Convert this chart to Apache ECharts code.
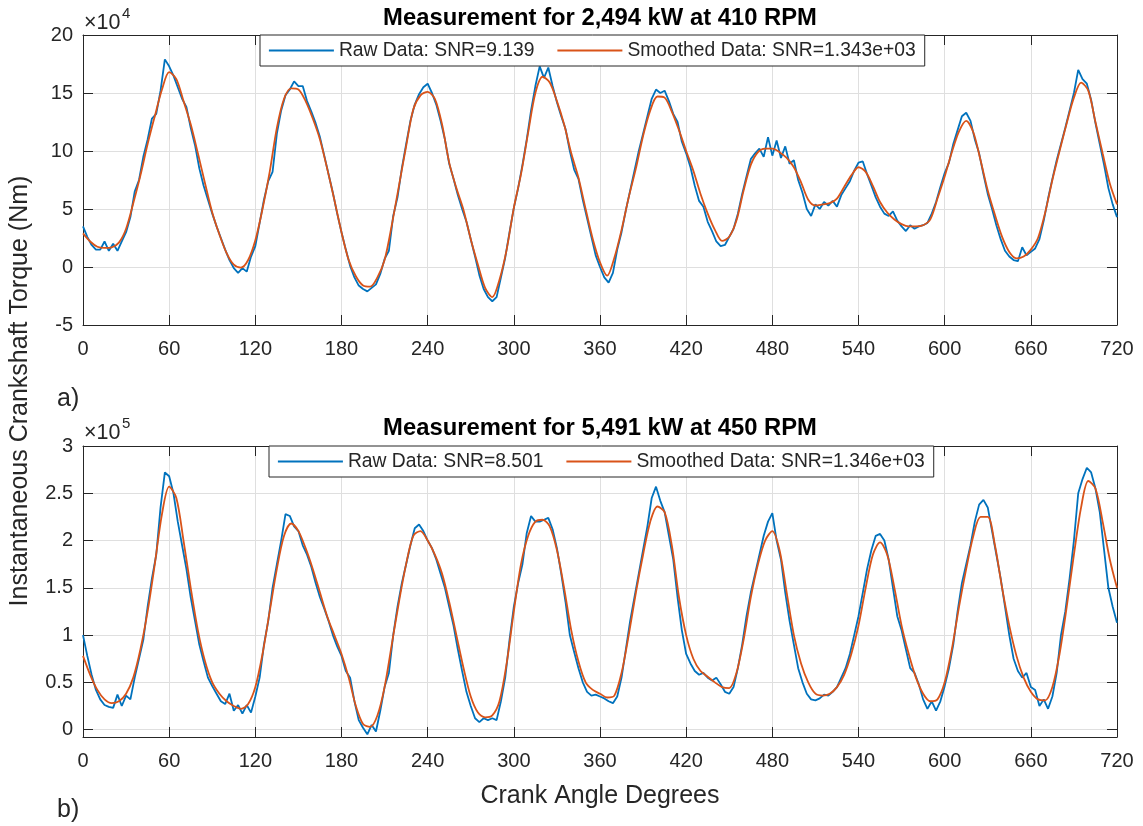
<!DOCTYPE html>
<html>
<head>
<meta charset="utf-8">
<script src="https://cdn.jsdelivr.net/npm/echarts@6/dist/echarts.min.js"></script>
<style>
  html, body { margin: 0; padding: 0; background: #fff; }
  #chart { width: 1143px; height: 826px; }
</style>
</head>
<body>
<div id="chart"></div>
<script>
// Crankshaft torque over two engine revolutions, raw vs. smoothed signal.
const FONT = '"Liberation Sans", Arial, Helvetica, sans-serif';
const INK = '#262626';
const BLUE = '#0072BD';
const ORANGE = '#D95319';

// Shared x axis: crank angle in degrees
const angleTicks = [0, 60, 120, 180, 240, 300, 360, 420, 480, 540, 600, 660, 720];
const rawStep = 3;     // degrees between raw samples
const smoothStep = 5;  // degrees between smoothed samples

// ---- Panel a: 2,494 kW at 410 RPM (torque in units of 10^4 Nm) ----
const titleA = 'Measurement for 2,494 kW at 410 RPM';
const rawNameA = 'Raw Data: SNR=9.139';
const smoothNameA = 'Smoothed Data: SNR=1.343e+03';
const yTicksA = [-5, 0, 5, 10, 15, 20];
const rawA = [
  3.5, 2.6, 1.9, 1.5, 1.5, 2.2, 1.4, 2.0, 1.4, 2.2,
  3.0, 4.3, 6.5, 7.5, 9.5, 11.0, 12.8, 13.2, 15.2, 17.9,
  17.3, 16.5, 15.5, 14.5, 13.8, 12.0, 10.5, 8.5, 7.0, 5.8,
  4.6, 3.5, 2.5, 1.5, 0.6, -0.1, -0.5, -0.1, -0.4, 0.9,
  1.8, 3.8, 5.8, 7.4, 8.2, 11.5, 13.5, 14.8, 15.3, 16.0,
  15.6, 15.6, 14.3, 13.4, 12.4, 11.2, 9.6, 8.0, 6.4, 4.6,
  3.0, 1.5, 0.1, -0.9, -1.6, -1.9, -2.1, -1.8, -1.5, -0.6,
  0.7, 1.4, 4.4, 6.0, 8.5, 10.6, 12.6, 14.0, 14.9, 15.5,
  15.8, 15.0, 14.0, 12.6, 11.0, 8.9, 7.6, 6.2, 5.0, 3.9,
  2.4, 0.9, -0.7, -1.9, -2.6, -2.95, -2.6, -0.9, 0.8, 3.0,
  5.1, 6.8, 8.8, 11.0, 13.5, 15.6, 17.3, 16.3, 17.2, 15.6,
  14.2, 13.0, 11.9, 10.0, 8.4, 7.6, 5.8, 4.2, 2.6, 1.0,
  0.0, -0.9, -1.35, -0.5, 1.5, 3.0, 4.9, 6.6, 8.3, 10.0,
  11.5, 13.0, 14.5, 15.3, 15.0, 15.2, 14.3, 13.2, 12.5, 10.8,
  9.8, 8.6, 7.0, 5.7, 5.2, 3.9, 3.1, 2.2, 1.8, 1.9,
  2.6, 3.3, 4.6, 6.3, 7.8, 9.3, 9.8, 10.2, 9.5, 11.2,
  9.6, 10.9, 9.4, 10.4, 8.9, 9.2, 7.5, 6.4, 5.0, 4.4,
  5.4, 5.0, 5.6, 5.3, 5.7, 5.2, 6.2, 6.8, 7.4, 8.3,
  9.0, 9.1, 8.0, 7.0, 6.0, 5.2, 4.6, 4.4, 4.8, 4.0,
  3.5, 3.1, 3.6, 3.3, 3.5, 3.6, 3.8, 4.6, 5.6, 6.9,
  8.1, 9.0, 10.6, 11.8, 13.0, 13.3, 12.6, 11.0, 9.8, 8.0,
  6.3, 5.0, 3.6, 2.4, 1.4, 0.9, 0.6, 0.5, 1.7, 1.0,
  1.3, 1.6, 2.4, 4.0, 5.9, 7.6, 9.2, 10.6, 12.0, 13.5,
  15.0, 17.0, 16.2, 15.8, 14.4, 12.4, 10.6, 8.8, 6.8, 5.4,
  4.3
];
const smoothA = [
  2.9, 2.2, 1.75, 1.65, 1.7, 2.1, 3.3, 5.5, 7.9, 10.6, 13.0, 15.3,
  16.8, 16.2, 14.3, 12.3, 9.8, 7.2, 4.7, 2.8, 1.2, 0.2, -0.05, 0.6,
  2.3, 5.0, 8.2, 12.0, 14.5, 15.4, 15.3, 14.3, 12.8, 11.0, 8.5, 5.8,
  3.0, 0.6, -0.8, -1.6, -1.7, -0.9, 0.6, 3.6, 7.0, 10.4, 13.6, 14.8,
  15.1, 14.5, 12.3, 9.0, 6.8, 4.9, 2.4, 0.2, -1.8, -2.6, -1.1, 1.5,
  5.1, 8.0, 11.6, 15.0, 16.4, 15.9, 14.3, 12.3, 9.8, 7.7, 5.0, 2.4,
  0.4, -0.75, 0.8, 3.2, 6.0, 8.5, 11.3, 13.5, 14.7, 14.6, 13.4, 11.8,
  10.0, 8.3, 6.3, 4.6, 3.2, 2.25, 2.6, 4.0, 6.6, 8.8, 9.9, 10.2,
  10.2, 9.9, 9.4, 8.6, 7.3, 5.8, 5.3, 5.4, 5.5, 5.9, 6.9, 7.9,
  8.6, 8.2, 7.0, 5.6, 4.7, 4.1, 3.7, 3.5, 3.5, 3.6, 4.1, 5.9,
  7.8, 9.9, 11.7, 12.6, 11.6, 9.2, 6.6, 4.5, 2.6, 1.3, 0.75, 0.9,
  1.5, 2.5, 4.7, 7.5, 10.0, 12.4, 14.6, 15.9, 15.2, 12.5, 9.8, 7.2,
  5.4
];

// ---- Panel b: 5,491 kW at 450 RPM (torque in units of 10^5 Nm) ----
const titleB = 'Measurement for 5,491 kW at 450 RPM';
const rawNameB = 'Raw Data: SNR=8.501';
const smoothNameB = 'Smoothed Data: SNR=1.346e+03';
const yTicksB = [0, 0.5, 1, 1.5, 2, 2.5, 3];
const rawB = [
  1.0, 0.78, 0.58, 0.42, 0.32, 0.26, 0.24, 0.23, 0.37, 0.25,
  0.36, 0.32, 0.55, 0.75, 0.95, 1.3, 1.6, 1.85, 2.35, 2.72,
  2.68, 2.5, 2.2, 1.95, 1.7, 1.4, 1.15, 0.9, 0.72, 0.55,
  0.46, 0.38, 0.3, 0.27, 0.38, 0.2, 0.26, 0.17, 0.26, 0.18,
  0.35, 0.55, 0.9, 1.15, 1.5, 1.75, 2.0, 2.28, 2.26, 2.15,
  2.1, 1.95, 1.85, 1.72, 1.55, 1.4, 1.28, 1.15, 1.0, 0.88,
  0.78, 0.62, 0.55, 0.3, 0.1, 0.02, -0.05, 0.05, -0.02, 0.2,
  0.45, 0.6, 1.0, 1.3, 1.55, 1.75, 1.95, 2.13, 2.17, 2.1,
  2.0, 1.92, 1.8, 1.65, 1.5, 1.3, 1.1, 0.85, 0.62, 0.4,
  0.25, 0.12, 0.08, 0.12, 0.1, 0.12, 0.1, 0.3, 0.55, 0.95,
  1.3, 1.55, 1.75, 2.08, 2.26, 2.2, 2.2, 2.22, 2.24, 2.12,
  1.92, 1.65, 1.35, 1.0, 0.82, 0.65, 0.5, 0.4, 0.36, 0.37,
  0.35, 0.33, 0.3, 0.28, 0.35, 0.55, 0.85, 1.15, 1.4, 1.65,
  1.9, 2.15, 2.45, 2.57, 2.42, 2.3, 2.05, 1.8, 1.4, 1.05,
  0.8, 0.7, 0.62, 0.58, 0.6, 0.55, 0.52, 0.55, 0.48, 0.4,
  0.38, 0.45, 0.65, 0.9, 1.2, 1.45, 1.65, 1.85, 2.05, 2.2,
  2.29, 2.0, 1.8, 1.45, 1.15, 0.9, 0.65, 0.5, 0.38, 0.32,
  0.31, 0.33, 0.37, 0.36, 0.4, 0.45, 0.55, 0.65, 0.8, 1.0,
  1.2, 1.45, 1.7, 1.9, 2.05, 2.07, 2.0, 1.8, 1.5, 1.2,
  1.05, 0.85, 0.65, 0.6, 0.48, 0.32, 0.22, 0.3, 0.2, 0.3,
  0.46, 0.65, 0.9, 1.25, 1.55, 1.75, 1.95, 2.2, 2.38, 2.43,
  2.35, 2.1, 1.85, 1.6, 1.3, 1.0, 0.75, 0.62, 0.55, 0.6,
  0.45, 0.42, 0.25, 0.32, 0.22, 0.35, 0.6, 1.0, 1.25, 1.6,
  2.0, 2.5, 2.65, 2.77, 2.72, 2.55, 2.3, 1.9, 1.5, 1.3,
  1.13
];
const smoothB = [
  0.78, 0.58, 0.42, 0.32, 0.28, 0.30, 0.38, 0.55, 0.85, 1.25, 1.75, 2.28,
  2.57, 2.45, 2.0, 1.5, 1.05, 0.72, 0.5, 0.38, 0.3, 0.25, 0.22, 0.27,
  0.45, 0.8, 1.25, 1.7, 2.05, 2.18, 2.1, 1.92, 1.7, 1.45, 1.2, 1.0,
  0.8, 0.55, 0.25, 0.06, 0.03, 0.15, 0.45, 0.9, 1.35, 1.75, 2.05, 2.1,
  2.0, 1.85, 1.65, 1.35, 1.0, 0.65, 0.35, 0.18, 0.13, 0.15, 0.3, 0.7,
  1.25, 1.75, 2.05, 2.2, 2.22, 2.15, 1.9, 1.5, 1.05, 0.72, 0.5, 0.42,
  0.38, 0.34, 0.36, 0.6, 1.0, 1.45, 1.85, 2.2, 2.36, 2.3, 1.95, 1.4,
  1.0, 0.75, 0.62, 0.56, 0.5, 0.45, 0.44, 0.6, 0.95, 1.4, 1.75, 2.0,
  2.1, 1.9, 1.45, 1.0, 0.7, 0.5, 0.38, 0.36, 0.38, 0.45, 0.58, 0.8,
  1.1, 1.5, 1.85, 1.98, 1.85, 1.5, 1.1, 0.8, 0.55, 0.38, 0.3, 0.32,
  0.5, 0.85, 1.3, 1.7, 2.05, 2.25, 2.25, 1.95, 1.5, 1.1, 0.78, 0.55,
  0.4, 0.32, 0.31, 0.45, 0.8, 1.3, 1.85, 2.35, 2.63, 2.55, 2.2, 1.8,
  1.5
];

// Pair each sample with its crank angle
const withAngles = (values, step) => values.map((v, i) => [i * step, v]);

const chart = echarts.init(document.getElementById('chart'), null, { renderer: 'canvas' });

const tickLabelStyle = { fontSize: 20, color: INK, fontFamily: FONT };
const gridLineStyle = { color: '#dfdfdf', width: 1 };
const boxLine = { show: true, onZero: false, lineStyle: { color: INK, width: 1 } };
const inTicks = { show: true, inside: true, length: 10, lineStyle: { color: INK, width: 1 } };

function angleAxes(gridIndex) {
  return [
    {
      gridIndex, type: 'value', position: 'bottom',
      min: angleTicks[0], max: angleTicks[angleTicks.length - 1], interval: 60,
      axisLine: boxLine, axisTick: inTicks,
      axisLabel: Object.assign({ margin: 14, showMinLabel: true, showMaxLabel: true }, tickLabelStyle),
      splitLine: { show: true, lineStyle: gridLineStyle }
    },
    {
      gridIndex, type: 'value', position: 'top',
      min: angleTicks[0], max: angleTicks[angleTicks.length - 1], interval: 60,
      axisLine: boxLine, axisTick: inTicks,
      axisLabel: { show: false }, splitLine: { show: false }
    }
  ];
}

function torqueAxes(gridIndex, ticks, lo, hi) {
  const common = { gridIndex, type: 'value', min: lo, max: hi };
  return [
    Object.assign({}, common, {
      position: 'left',
      axisLine: boxLine,
      axisTick: Object.assign({ customValues: ticks }, inTicks),
      axisLabel: Object.assign({ margin: 10, customValues: ticks, showMinLabel: true, showMaxLabel: true }, tickLabelStyle),
      splitLine: { show: true, lineStyle: gridLineStyle }
    }),
    Object.assign({}, common, {
      position: 'right',
      axisLine: boxLine,
      axisTick: Object.assign({ customValues: ticks }, inTicks),
      axisLabel: { show: false }, splitLine: { show: false }
    })
  ];
}

function lineSeries(name, data, color, xi, yi, smooth, z) {
  return {
    type: 'line', name, data, xAxisIndex: xi, yAxisIndex: yi,
    symbol: 'none', smooth: smooth, z,
    lineStyle: { color, width: 1.8 }, itemStyle: { color },
    emphasis: { disabled: true }, animation: false
  };
}

// Boxed legend with a plain line sample for each series
function legendBox(names, left, top) {
  return {
    data: names, left, top, orient: 'horizontal',
    itemWidth: 65, itemHeight: 14, itemGap: 22,
    padding: [6, 9, 6, 8],
    borderColor: INK, borderWidth: 1, borderRadius: 0,
    backgroundColor: '#fff', selectedMode: false,
    itemStyle: { opacity: 0, borderWidth: 0 },
    lineStyle: { width: 1.8 },
    textStyle: { fontSize: 19.3, color: INK, fontFamily: FONT }
  };
}

function label(text, x, y, size, opts) {
  return Object.assign({
    type: 'text', x, y, silent: true,
    style: Object.assign({
      text, fontSize: size, fontFamily: FONT, fill: INK,
      textAlign: 'left', textVerticalAlign: 'middle'
    }, (opts && opts.style) || {})
  }, (opts && opts.el) || {});
}

chart.setOption({
  backgroundColor: '#fff',
  animation: false,
  grid: [
    { left: 83, top: 35, width: 1034, height: 290, containLabel: false },
    { left: 83, top: 446, width: 1034, height: 291, containLabel: false }
  ],
  xAxis: [...angleAxes(0), ...angleAxes(1)],
  yAxis: [...torqueAxes(0, yTicksA, -5, 20), ...torqueAxes(1, yTicksB, -0.078, 3)],
  legend: [
    legendBox([rawNameA, smoothNameA], 260, 35),
    legendBox([rawNameB, smoothNameB], 269, 446)
  ],
  series: [
    lineSeries(rawNameA, withAngles(rawA, rawStep), BLUE, 0, 0, false, 2),
    lineSeries(smoothNameA, withAngles(smoothA, smoothStep), ORANGE, 0, 0, 0.3, 3),
    lineSeries(rawNameB, withAngles(rawB, rawStep), BLUE, 2, 2, false, 2),
    lineSeries(smoothNameB, withAngles(smoothB, smoothStep), ORANGE, 2, 2, 0.3, 3)
  ],
  graphic: [
    label(titleA, 600, 18.5, 23.8, { style: { textAlign: 'center', fontWeight: 'bold', fill: '#000' } }),
    label(titleB, 600, 428.5, 23.8, { style: { textAlign: 'center', fontWeight: 'bold', fill: '#000' } }),
    label('\u00d710', 84, 23, 21.5),
    label('4', 122, 14, 15),
    label('\u00d710', 84, 433, 21.5),
    label('5', 122, 424, 15),
    label('Instantaneous Crankshaft Torque (Nm)', 20, 391, 25,
      { style: { textAlign: 'center' }, el: { rotation: Math.PI / 2 } }),
    label('Crank Angle Degrees', 600, 796, 25, { style: { textAlign: 'center' } }),
    label('a)', 57, 399, 25),
    label('b)', 57, 810, 25)
  ]
});
</script>
</body>
</html>
